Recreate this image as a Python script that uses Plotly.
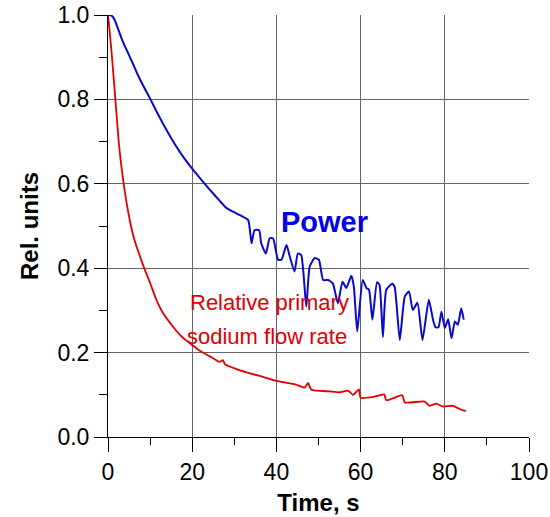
import plotly.graph_objects as go

# Power (blue)
power_t = [0, 0.5, 1.0, 1.5, 2, 2.8, 3.73, 5, 5.9, 6.9, 8.5, 10.1, 11.6, 13.2, 16, 18, 20, 21.8, 24, 26.5,
           28.1, 29.7, 31.5, 33.3, 34.1, 34.8, 35.9, 36.4, 37.5, 38.4, 39.2, 40.4, 41.2, 42.4, 43.2,
           44.3, 45.1, 45.9, 47.1, 47.9, 49.1, 50.1, 51.1, 52.3, 53.4, 54.6, 55.7, 56.6, 57.8, 58.4,
           59.2, 60.5, 61.4, 62.0, 62.8, 63.9, 64.5, 65.3, 66.1, 67.5, 68.1, 69.3, 70.5, 71.5, 72.4,
           73.5, 74.7, 76.2, 77.2, 77.8, 78.5, 79.2, 80.0, 80.8, 81.6, 82.4, 83.1, 83.9, 84.5]
power_y = [1.0, 1.0, 0.997, 0.99, 0.978, 0.956, 0.932, 0.905, 0.885, 0.862, 0.83, 0.80, 0.77, 0.74,
           0.692, 0.662, 0.636, 0.614, 0.588, 0.56, 0.543, 0.534, 0.525, 0.514, 0.459, 0.49, 0.49, 0.459,
           0.435, 0.471, 0.471, 0.42, 0.42, 0.455, 0.427, 0.392, 0.435, 0.431, 0.309, 0.404, 0.424,
           0.42, 0.372, 0.372, 0.364, 0.317, 0.368, 0.353, 0.382, 0.356, 0.25, 0.372, 0.353, 0.349,
           0.278, 0.367, 0.36, 0.237, 0.349, 0.363, 0.355, 0.23, 0.333, 0.345, 0.301, 0.318, 0.23,
           0.325, 0.278, 0.26, 0.26, 0.297, 0.258, 0.279, 0.234, 0.274, 0.266, 0.305, 0.278]

# Relative primary sodium flow rate (red)
flow_t = [0, 0.5, 0.95, 1.35, 1.75, 2.15, 2.54, 3.1, 3.73, 4.5, 5.46, 6.2, 7, 7.8, 8.6, 10, 11.5, 13,
          15.4, 17.5, 20, 22, 24.2, 26.5, 27.3, 27.8, 30.5, 34.4, 37, 40, 44.7, 46.7, 47.5, 48.3, 52.7,
          55, 57, 58.2, 59.6, 60, 63, 65.6, 66.1, 69.9, 70.5, 75.2, 76.4, 78, 79.6, 81.9, 84.3, 85]
flow_y = [1.0, 0.95, 0.90, 0.85, 0.80, 0.75, 0.70, 0.648, 0.60, 0.55, 0.50, 0.47, 0.445, 0.422, 0.40,
          0.365, 0.325, 0.295, 0.262, 0.238, 0.218, 0.203, 0.191, 0.178, 0.182, 0.172, 0.161, 0.149,
          0.142, 0.133, 0.124, 0.117, 0.128, 0.112, 0.108, 0.106, 0.110, 0.100, 0.113, 0.093, 0.095,
          0.101, 0.087, 0.099, 0.082, 0.084, 0.074, 0.079, 0.072, 0.074, 0.063, 0.062]

x_ticks = [0, 20, 40, 60, 80, 100]
y_ticks = [0.0, 0.2, 0.4, 0.6, 0.8, 1.0]

FONT = "Liberation Sans, Arial, sans-serif"

fig = go.Figure()
fig.add_trace(go.Scatter(x=flow_t, y=flow_y, mode="lines",
                         line=dict(color="#e00000", width=1.8, shape="spline", smoothing=0.5),
                         showlegend=False))
fig.add_trace(go.Scatter(x=power_t, y=power_y, mode="lines",
                         line=dict(color="#0a0acc", width=2, shape="spline", smoothing=0.5),
                         showlegend=False))

fig.add_annotation(x=51.5, y=0.509, text="<b>Power</b>", showarrow=False,
                   font=dict(family=FONT, size=29, color="#0000ee"))
fig.add_annotation(x=38.3, y=0.318, text="Relative primary", showarrow=False,
                   font=dict(family=FONT, size=22, color="#e00000"))
fig.add_annotation(x=37.8, y=0.237, text="sodium flow rate", showarrow=False,
                   font=dict(family=FONT, size=22, color="#e00000"))

fig.update_layout(
    width=550, height=517,
    margin=dict(l=108, r=21, t=15, b=80),
    plot_bgcolor="white", paper_bgcolor="white",
    font=dict(family=FONT, color="black"),
)
fig.update_xaxes(range=[0, 100], tickvals=x_ticks, ticktext=[str(v) for v in x_ticks],
                 ticks="outside", ticklen=14, tickcolor="black", automargin=False,
                 ticklabeloverflow="allow",
                 minor=dict(dtick=10, ticks="outside", ticklen=7, tickcolor="black", showgrid=False),
                 showline=True, linecolor="black", linewidth=1,
                 showgrid=True, gridcolor="#666", gridwidth=1, zeroline=False,
                 tickfont=dict(size=23),
                 title=dict(text="<b>Time, s</b>", font=dict(family=FONT, size=24), standoff=10))
fig.update_yaxes(range=[0, 1.0], tickvals=y_ticks, ticktext=["%.1f" % v for v in y_ticks],
                 ticks="outside", ticklen=13, tickcolor="black", automargin=False,
                 ticklabeloverflow="allow",
                 minor=dict(dtick=0.1, ticks="outside", ticklen=8, tickcolor="black", showgrid=False),
                 showline=True, linecolor="black", linewidth=1,
                 showgrid=True, gridcolor="#666", gridwidth=1, zeroline=False,
                 tickfont=dict(size=23),
                 title=dict(text="<b>Rel. units</b>", font=dict(family=FONT, size=24), standoff=12))

fig.write_html("out.html", config={"displayModeBar": False},
               post_script="document.body.style.margin='0';")
